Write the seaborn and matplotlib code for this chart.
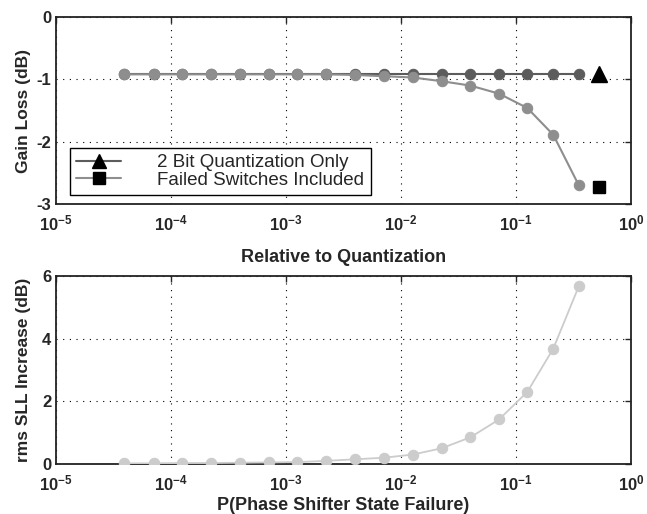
import matplotlib
matplotlib.use("Agg")
import matplotlib.pyplot as plt
from matplotlib.lines import Line2D
from matplotlib.ticker import FixedLocator, FixedFormatter, NullLocator
import pandas as pd
import seaborn as sns

# failure probability values (x axis)
p_fail = [3.9e-5, 7.1e-5, 1.26e-4, 2.25e-4, 4.0e-4, 7.1e-4, 1.26e-3, 2.25e-3,
          4.0e-3, 7.1e-3, 1.26e-2, 2.25e-2, 4.0e-2, 7.1e-2, 1.25e-1, 2.1e-1, 3.5e-1]
gain_quant = [-0.92] * 17
gain_failed = [-0.92, -0.92, -0.92, -0.92, -0.92, -0.92, -0.92, -0.92,
               -0.93, -0.95, -0.97, -1.03, -1.10, -1.23, -1.46, -1.89, -2.70]
sll_increase = [0.02, 0.02, 0.03, 0.03, 0.04, 0.05, 0.06, 0.10,
                0.15, 0.20, 0.30, 0.50, 0.85, 1.42, 2.30, 3.68, 5.67]
end_x = 0.52
end_quant = -0.92
end_failed = -2.73
labels = ["2 Bit Quantization Only", "Failed Switches Included"]
xticks = [1e-5, 1e-4, 1e-3, 1e-2, 1e-1, 1e0]
xticklabels = [r"$\mathbf{10^{-5}}$", r"$\mathbf{10^{-4}}$", r"$\mathbf{10^{-3}}$",
               r"$\mathbf{10^{-2}}$", r"$\mathbf{10^{-1}}$", r"$\mathbf{10^{0}}$"]

sns.set_style("white")
plt.rcParams["font.family"] = ["Liberation Sans", "DejaVu Sans"]
plt.rcParams["mathtext.fontset"] = "custom"
plt.rcParams["mathtext.bf"] = "Liberation Sans:bold"
plt.rcParams["mathtext.rm"] = "Liberation Sans"

c_quant = "#5c5c5c"
c_failed = "#8e8e8e"
c_sll = "#cccccc"

fig = plt.figure(figsize=(6.47, 5.14), dpi=100)
ax1 = fig.add_axes([0.0858, 0.603, 0.890, 0.364])
ax2 = fig.add_axes([0.0858, 0.0973, 0.890, 0.366])

df_top = pd.DataFrame({
    "p": p_fail * 2,
    "gain": gain_quant + gain_failed,
    "series": [labels[0]] * len(p_fail) + [labels[1]] * len(p_fail),
})
sns.lineplot(data=df_top, x="p", y="gain", hue="series", palette=[c_quant, c_failed],
             marker="o", markersize=7.5, linewidth=1.5,
             legend=False, ax=ax1, zorder=3)
for ln, c in zip(ax1.lines, [c_quant, c_failed]):
    ln.set_markeredgecolor(c)
ax1.plot([end_x], [end_quant], marker="^", color="k", markersize=11, ls="none", zorder=4)
ax1.plot([end_x], [end_failed], marker="s", color="k", markersize=9, ls="none", zorder=4)

df_bot = pd.DataFrame({"p": p_fail, "sll": sll_increase})
sns.lineplot(data=df_bot, x="p", y="sll", color=c_sll, marker="o", markersize=7.5,
             markeredgecolor=c_sll, linewidth=1.3, ax=ax2, zorder=3)

for ax in (ax1, ax2):
    ax.set_xscale("log")
    ax.set_xlim(1e-5, 1)
    ax.xaxis.set_major_locator(FixedLocator(xticks))
    ax.xaxis.set_major_formatter(FixedFormatter(xticklabels))
    ax.xaxis.set_minor_locator(NullLocator())
    ax.grid(True, which="major", color="k", linestyle=(0, (1, 5)), linewidth=0.8)
    ax.tick_params(direction="in", top=True, right=True, length=4, width=1,
                   labelsize=12)
    ax.tick_params(axis="x", pad=7)
    ax.tick_params(axis="y", pad=3)
    for s in ax.spines.values():
        s.set_linewidth(1.3)
        s.set_color("#222222")

ax1.set_ylim(-3, 0)
ax1.set_yticks([0, -1, -2, -3])
ax1.set_yticklabels(["0", "-1", "-2", "-3"], fontweight="bold")
ax1.set_xlabel("Relative to Quantization", fontsize=13, fontweight="bold")
ax1.xaxis.set_label_coords(0.5, -0.24)
ax1.set_ylabel("Gain Loss (dB)", fontsize=12.5, fontweight="bold")
ax1.yaxis.set_label_coords(-0.043, 0.5)

ax2.set_ylim(0, 6)
ax2.set_yticks([0, 2, 4, 6])
ax2.set_yticklabels(["0", "2", "4", "6"], fontweight="bold")
ax2.set_xlabel("P(Phase Shifter State Failure)", fontsize=13, fontweight="bold")
ax2.xaxis.set_label_coords(0.5, -0.175)
ax2.set_ylabel("rms SLL Increase (dB)", fontsize=12.5, fontweight="bold")
ax2.yaxis.set_label_coords(-0.043, 0.5)

handles = [
    Line2D([0], [0], color=c_quant, lw=1.5, marker="^", markersize=10,
           markerfacecolor="k", markeredgecolor="k"),
    Line2D([0], [0], color=c_failed, lw=1.5, marker="s", markersize=9,
           markerfacecolor="k", markeredgecolor="k"),
]
leg = ax1.legend(handles, labels, loc="lower left", bbox_to_anchor=(0.025, 0.048),
                 fontsize=13.5, frameon=True, fancybox=False, framealpha=1,
                 edgecolor="k", labelspacing=0.0, handlelength=2.4,
                 handletextpad=1.9, borderpad=0.35, borderaxespad=0)
leg.get_frame().set_linewidth(1.0)

fig.savefig("out.png", dpi=100)
